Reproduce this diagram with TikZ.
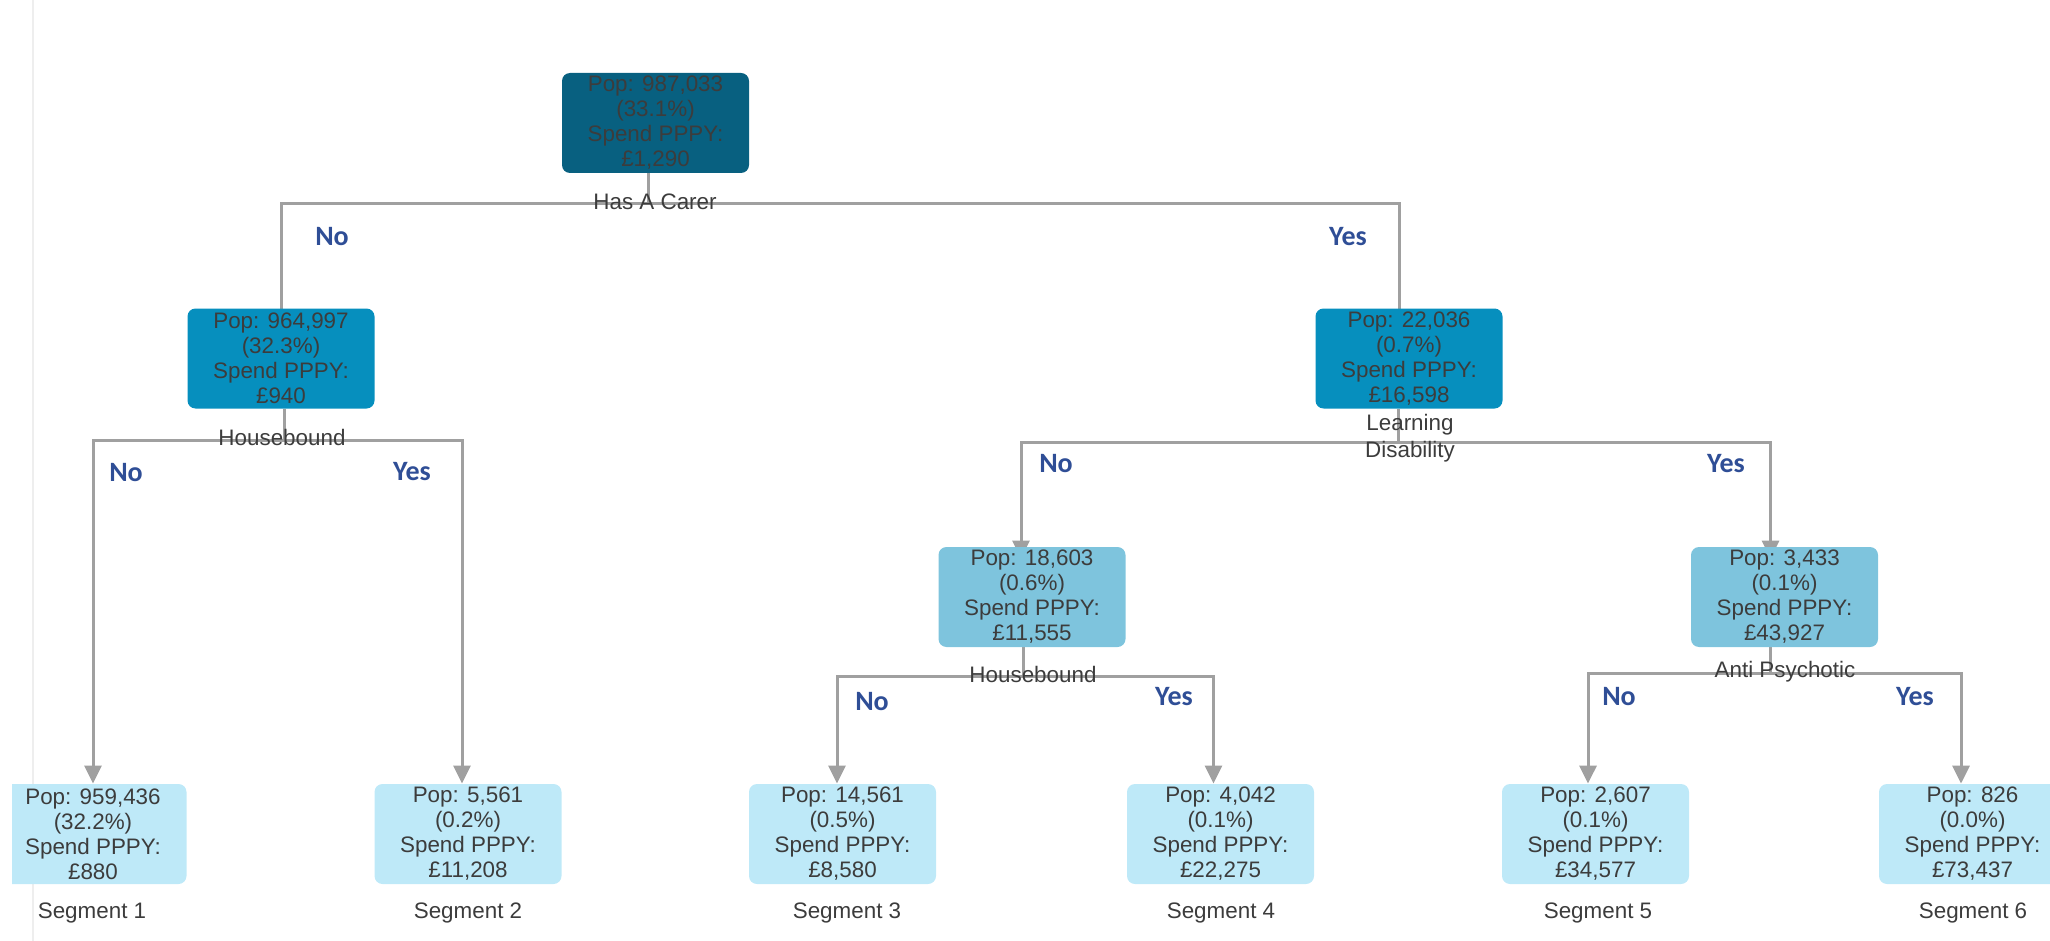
\documentclass[tikz,border=0pt]{standalone}
\usepackage{fontspec}
\setmainfont{Liberation Sans}
\newfontfamily\ynfont{Carlito}
\usetikzlibrary{arrows.meta,backgrounds}
\definecolor{lvlzero}{RGB}{8,96,128}
\definecolor{lvlone}{RGB}{6,143,190}
\definecolor{lvltwo}{RGB}{126,196,221}
\definecolor{leaf}{RGB}{190,233,248}
\definecolor{txt}{RGB}{60,60,60}
\definecolor{linegray}{RGB}{160,160,160}
\definecolor{ynblue}{RGB}{47,78,150}
\definecolor{rule}{RGB}{238,238,238}
\begin{document}
\begin{tikzpicture}[x=0.5pt,y=-0.5pt,
  box/.style={rounded corners=4pt, minimum width=93.5pt, minimum height=50pt,
    align=center, inner sep=0pt, text=txt,
    font=\fontsize{11.2}{12.5}\selectfont},
  conn/.style={draw=linegray, line width=1.5pt},
  arr/.style={conn, -{Triangle[width=8.5pt,length=9pt]}},
  splitlabel/.style={text=txt, align=center, inner sep=0pt,
    font=\fontsize{11.2}{13.5}\selectfont},
  yn/.style={text=ynblue, inner sep=0pt, font=\ynfont\bfseries\fontsize{14}{14}\selectfont},
  seg/.style={text=txt, inner sep=0pt, font=\fontsize{11.2}{12.5}\selectfont}]
\useasboundingbox (0,0) rectangle (2050,941);
\clip (12,0) rectangle (2050,941);

% thin page rule on the left
\draw[rule, line width=0.6pt] (33,0) -- (33,941);

% tree nodes
\node[box, fill=lvlzero] (root) at (655.5,123) {Pop: 987,033\\(33.1\%)\\Spend PPPY:\\£1,290};
\node[box, fill=lvlone] (n1) at (281,358.5) {Pop: 964,997\\(32.3\%)\\Spend PPPY:\\£940};
\node[box, fill=lvlone] (n2) at (1409,358.5) {Pop: 22,036\\(0.7\%)\\Spend PPPY:\\£16,598};
\node[box, fill=lvltwo] (n3) at (1032,597) {Pop: 18,603\\(0.6\%)\\Spend PPPY:\\£11,555};
\node[box, fill=lvltwo] (n4) at (1784.5,597) {Pop: 3,433\\(0.1\%)\\Spend PPPY:\\£43,927};

\node[box, fill=leaf] (s1) at (93,834) {Pop: 959,436\\(32.2\%)\\Spend PPPY:\\£880};
\node[box, fill=leaf] (s2) at (468,834) {Pop: 5,561\\(0.2\%)\\Spend PPPY:\\£11,208};
\node[box, fill=leaf] (s3) at (842.5,834) {Pop: 14,561\\(0.5\%)\\Spend PPPY:\\£8,580};
\node[box, fill=leaf] (s4) at (1220.5,834) {Pop: 4,042\\(0.1\%)\\Spend PPPY:\\£22,275};
\node[box, fill=leaf] (s5) at (1595.5,834) {Pop: 2,607\\(0.1\%)\\Spend PPPY:\\£34,577};
\node[box, fill=leaf] (s6) at (1972.5,834) {Pop: 826\\(0.0\%)\\Spend PPPY:\\£73,437};

% segment captions
\node[seg] (g1) at (92,913) {Segment 1};
\node[seg] (g2) at (468,913) {Segment 2};
\node[seg] (g3) at (847,913) {Segment 3};
\node[seg] (g4) at (1221,913) {Segment 4};
\node[seg] (g5) at (1598,913) {Segment 5};
\node[seg] (g6) at (1973,913) {Segment 6};

% split junctions
\coordinate (j0) at (648,204);
\coordinate (j1) at (284,440);
\coordinate (j2) at (1398,442);
\coordinate (j3) at (1023,676);
\coordinate (j4) at (1770,673);

% connectors, kept behind the boxes
\begin{pgfonlayer}{background}
  \draw[conn] (root.south -| j0) -- (j0);
  \draw[arr] (j0) -| ([yshift=-10pt]n1.north);
  \draw[arr] (j0) -| ([xshift=-5pt,yshift=-10pt]n2.north);

  \draw[conn] (n1.south -| j1) -- (j1);
  \draw[arr] (j1) -| (s1.north);
  \draw[arr] (j1) -| ([xshift=-3pt]s2.north);

  \draw[conn] (n2.south -| j2) -- (j2);
  \draw[arr] (j2) -| ([xshift=-5.5pt,yshift=-6pt]n3.north);
  \draw[arr] (j2) -| ([xshift=-7pt,yshift=-6pt]n4.north);

  \draw[conn] (n3.south -| j3) -- (j3);
  \draw[arr] (j3) -| ([xshift=-2.75pt]s3.north);
  \draw[arr] (j3) -| ([xshift=-3.5pt]s4.north);

  \draw[conn] (n4.south -| j4) -- (j4);
  \draw[arr] (j4) -| ([xshift=-3.75pt]s5.north);
  \draw[arr] (j4) -| ([xshift=-5.75pt]s6.north);
\end{pgfonlayer}

% split variable names, set over the lines
\node[splitlabel] (v0) at (655,202) {Has A Carer};
\node[splitlabel] (v1) at (282,437) {Housebound};
\node[splitlabel] (v2) at (1410,438) {Learning\\Disability};
\node[splitlabel] (v3) at (1033,674) {Housebound};
\node[splitlabel] (v4) at (1785,672) {Anti Psychotic};

% branch answers
\node[yn] (a1) at (332,237) {No};
\node[yn] (a2) at (1348,237) {Yes};
\node[yn] (a3) at (126,473) {No};
\node[yn] (a4) at (412,472) {Yes};
\node[yn] (a5) at (1056,464) {No};
\node[yn] (a6) at (1726,464) {Yes};
\node[yn] (a7) at (872,702) {No};
\node[yn] (a8) at (1174,697) {Yes};
\node[yn] (a9) at (1619,697) {No};
\node[yn] (a10) at (1915,697) {Yes};
\end{tikzpicture}
\end{document}
